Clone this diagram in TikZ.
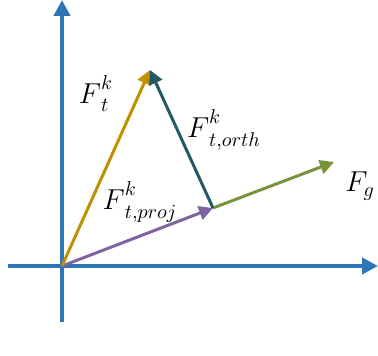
\documentclass[tikz,border=0pt]{standalone}
\usepackage{amsmath,amssymb}
\usepackage{xcolor}
\usepackage{tikz}
\usetikzlibrary{arrows.meta,calc}
\definecolor{axisblue}{HTML}{2E75B6}
\definecolor{tgold}{HTML}{BF9000}
\definecolor{orthteal}{HTML}{215968}
\definecolor{projpurple}{HTML}{8064A2}
\definecolor{ggreen}{HTML}{77933C}

\begin{document}
\begin{tikzpicture}[x=0.5pt,y=-0.5pt,>={Triangle[length=7pt,width=7pt]},line join=round]
  \useasboundingbox (0,0) rectangle (378,356);
  \coordinate (O) at (62,266);
  \coordinate (XL) at (8,266);
  \coordinate (XR) at (378,266);
  \coordinate (YB) at (62,322);
  \coordinate (YT) at (62,0);
  \coordinate (A) at (150,70);
  \coordinate (B) at (213,208);
  \coordinate (G) at (334,162);
  \draw[-{Triangle[length=8pt,width=8pt]},axisblue,line width=2pt] (XL) -- (XR);
  \draw[-{Triangle[length=8pt,width=8pt]},axisblue,line width=2pt] (YB) -- (YT);
  \draw[->,ggreen,line width=1.5pt] (B) -- (G);
  \draw[->,projpurple,line width=1.5pt] (O) -- (B);
  \draw[->,tgold,line width=1.5pt] (O) -- (A);
  \draw[->,orthteal,line width=1.5pt] (B) -- (A);
  \node[font=\Large,inner sep=1pt] (lt) at (96,94) {${F\mathstrut}_t^k$};
  \node[font=\Large,inner sep=1pt] (lorth) at (224,130) {${F\mathstrut}_{t,orth}^k$};
  \node[font=\Large,inner sep=1pt] (lproj) at (140,202) {${F\mathstrut}_{t,proj}^k$};
  \node[font=\Large,inner sep=1pt] (lg) at (360,186) {$F_g$};
\end{tikzpicture}
\end{document}
